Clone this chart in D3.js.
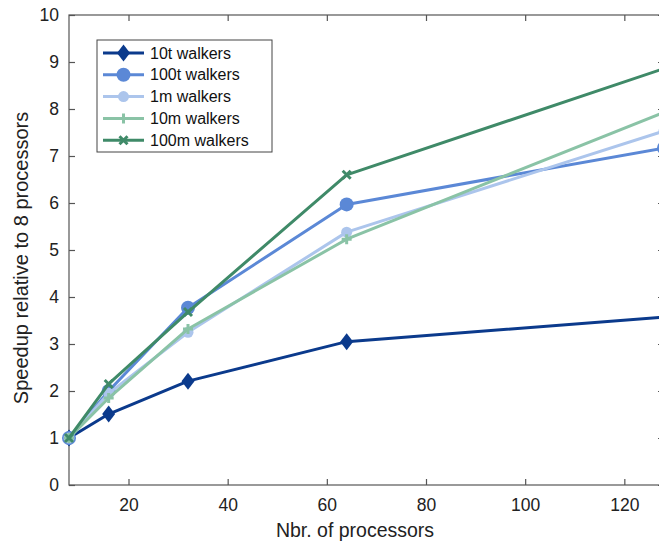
<!DOCTYPE html>
<html>
<head>
<meta charset="utf-8">
<script src="https://cdn.jsdelivr.net/npm/d3@7"></script>
<style>
  body { margin: 0; background: #fff; }
  svg { display: block; font-family: "Liberation Sans", Arial, sans-serif; }
</style>
</head>
<body>
<svg id="chart" width="659" height="542"></svg>
<script>
// processors on the x axis
const procs = [8, 16, 32, 64, 128];
// speedup per walker count
const s10t  = [1, 1.51, 2.21, 3.05, 3.57];
const s100t = [1, 2.0, 3.77, 5.97, 7.17];
const s1m   = [1, 1.95, 3.25, 5.38, 7.53];
const s10m  = [1, 1.85, 3.32, 5.23, 7.93];
const s100m = [1, 2.15, 3.68, 6.6, 8.86];
const names = ["10t walkers", "100t walkers", "1m walkers", "10m walkers", "100m walkers"];
const xTicks = [20, 40, 60, 80, 100, 120];
const yTicks = [0, 1, 2, 3, 4, 5, 6, 7, 8, 9, 10];

const series = [
  {name: names[0], vals: s10t,  color: "#0b3a8c", sym: "diamond"},
  {name: names[1], vals: s100t, color: "#5b88d6", sym: "circle"},
  {name: names[2], vals: s1m,   color: "#acc5ec", sym: "smallcircle"},
  {name: names[3], vals: s10m,  color: "#8ac3a6", sym: "plus"},
  {name: names[4], vals: s100m, color: "#3f8a68", sym: "cross"}
];

const svg = d3.select("#chart");
const mLeft = 69, mRight = 664, mTop = 15, mBottom = 485;

const x = d3.scaleLinear().domain([8, 128]).range([mLeft, mRight]);
const y = d3.scaleLinear().domain([0, 10]).range([mBottom, mTop]);

const axisColor = "#555";
const g = svg.append("g");

// box
g.append("rect")
  .attr("x", mLeft).attr("y", mTop)
  .attr("width", mRight - mLeft).attr("height", mBottom - mTop)
  .attr("fill", "none").attr("stroke", axisColor).attr("stroke-width", 1.2);

// axes with inward ticks
function styleAxis(sel) {
  sel.select(".domain").remove();
  sel.selectAll(".tick line").attr("stroke", axisColor).attr("stroke-width", 1.2);
  sel.selectAll(".tick text").attr("fill", "#222").style("font-size", "17.5px")
    .style("font-family", "Liberation Sans, Arial, sans-serif");
}
g.append("g").attr("transform", `translate(0,${mBottom})`)
  .call(d3.axisBottom(x).tickValues(xTicks).tickSizeInner(-6).tickSizeOuter(0).tickPadding(14))
  .call(styleAxis);
g.append("g").attr("transform", `translate(0,${mTop})`)
  .call(d3.axisTop(x).tickValues(xTicks).tickSizeInner(-6).tickSizeOuter(0).tickFormat(""))
  .call(styleAxis);
g.append("g").attr("transform", `translate(${mLeft},0)`)
  .call(d3.axisLeft(y).tickValues(yTicks).tickSizeInner(-6).tickSizeOuter(0).tickPadding(10))
  .call(styleAxis);
g.append("g").attr("transform", `translate(${mRight},0)`)
  .call(d3.axisRight(y).tickValues(yTicks).tickSizeInner(-6).tickSizeOuter(0).tickFormat(""))
  .call(styleAxis);

// axis labels
svg.append("text").attr("x", 355).attr("y", 537)
  .attr("text-anchor", "middle").attr("fill", "#222").style("font-size", "19.5px")
  .text("Nbr. of processors");
svg.append("text").attr("transform", "translate(28,258) rotate(-90)")
  .attr("text-anchor", "middle").attr("fill", "#222").style("font-size", "20px")
  .text("Speedup relative to 8 processors");

function drawMarker(sel, s) {
  if (s.sym === "diamond") {
    sel.append("path").attr("d", "M0,-8.5L6.5,0L0,8.5L-6.5,0Z").attr("fill", s.color);
  } else if (s.sym === "circle") {
    sel.append("circle").attr("r", 7).attr("fill", s.color);
  } else if (s.sym === "smallcircle") {
    sel.append("circle").attr("r", 5.5).attr("fill", s.color);
  } else if (s.sym === "plus") {
    sel.append("path").attr("d", "M-5,0H5M0,-5V5").attr("stroke", s.color).attr("stroke-width", 3);
  } else {
    sel.append("path").attr("d", "M-4,-4L4,4M-4,4L4,-4").attr("stroke", s.color).attr("stroke-width", 3);
  }
}

const plot = svg.append("g");
const line = d3.line().x((d, i) => x(procs[i])).y(d => y(d));

series.forEach(s => {
  plot.append("path").datum(s.vals)
    .attr("d", line).attr("fill", "none")
    .attr("stroke", s.color).attr("stroke-width", 3).attr("stroke-linejoin", "round");
  s.vals.forEach((v, i) => {
    const m = plot.append("g").attr("transform", `translate(${x(procs[i])},${y(v)})`);
    drawMarker(m, s);
  });
});

// legend
const lg = svg.append("g").attr("transform", "translate(97,40)");
lg.append("rect").attr("width", 175).attr("height", 112)
  .attr("fill", "#fff").attr("stroke", "#444").attr("stroke-width", 1);
series.forEach((s, i) => {
  const row = lg.append("g").attr("transform", `translate(0,${13 + i * 21.8})`);
  row.append("line").attr("x1", 6).attr("x2", 47)
    .attr("stroke", s.color).attr("stroke-width", 3);
  drawMarker(row.append("g").attr("transform", "translate(26.5,0)"), s);
  row.append("text").attr("x", 53).attr("y", 5.5).attr("fill", "#111")
    .style("font-size", "16px").text(s.name);
});
</script>
</body>
</html>
